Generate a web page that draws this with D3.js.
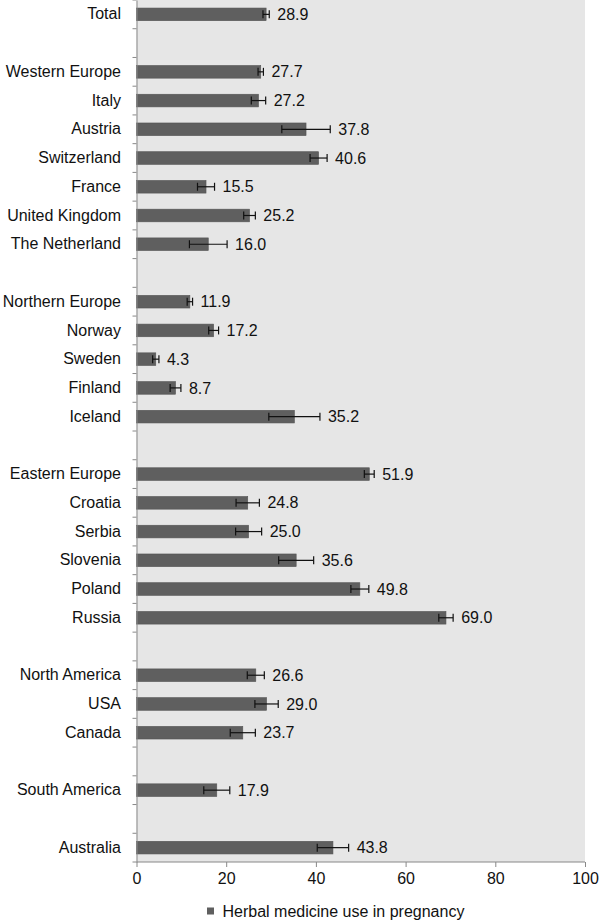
<!DOCTYPE html>
<html><head><meta charset="utf-8">
<script src="https://cdn.jsdelivr.net/npm/d3@7"></script>
<style>body{margin:0;background:#fff;} svg{display:block;font-family:"Liberation Sans",Arial,sans-serif;}</style>
</head><body><svg id="c" width="600" height="921"></svg>
<script>
const categories = ["Total","_b1","Western Europe","Italy","Austria","Switzerland","France","United Kingdom","The Netherland","_b2","Northern Europe","Norway","Sweden","Finland","Iceland","_b3","Eastern Europe","Croatia","Serbia","Slovenia","Poland","Russia","_b4","North America","USA","Canada","_b5","South America","_b6","Australia"];
const values = [28.9,null,27.7,27.2,37.8,40.6,15.5,25.2,16.0,null,11.9,17.2,4.3,8.7,35.2,null,51.9,24.8,25.0,35.6,49.8,69.0,null,26.6,29.0,23.7,null,17.9,null,43.8];
const errors = [0.7,null,0.6,1.6,5.4,1.9,1.9,1.3,4.2,null,0.6,1.1,0.7,1.2,5.7,null,1.1,2.6,2.9,3.9,2.0,1.6,null,1.9,2.6,2.8,null,2.9,null,3.5];
const xTicks = [0,20,40,60,80,100];
const seriesName = "Herbal medicine use in pregnancy";

const svg = d3.select("#c");
const FS = 16;
const pL = 136.5, pR = 585, pT = 0, pB = 862;
const x = d3.scaleLinear().domain([0,100]).range([pL,pR]);
const y = d3.scaleBand().domain(categories).range([pT,pB]).paddingInner(0.56).paddingOuter(0.28);
const yb = d3.scaleBand().domain(categories).range([pT,pB]);

svg.append("rect").attr("x",pL).attr("y",pT).attr("width",pR-pL).attr("height",pB-pT).attr("fill","#e6e6e6");

const data = categories.map((c,i)=>({c,v:values[i],e:errors[i]})).filter(d=>d.v!==null);

svg.selectAll("rect.bar").data(data).enter().append("rect").attr("class","bar")
  .attr("x",x(0)).attr("y",d=>y(d.c)).attr("width",d=>x(d.v)-x(0)).attr("height",y.bandwidth())
  .attr("fill","#5f5f5f").attr("stroke","#555").attr("stroke-width",0.6);

const eb = svg.selectAll("g.err").data(data).enter().append("g").attr("class","err")
  .attr("transform",d=>`translate(0,${y(d.c)+y.bandwidth()/2})`);
eb.append("line").attr("x1",d=>x(d.v-d.e)).attr("x2",d=>x(d.v+d.e)).attr("stroke","#111").attr("stroke-width",1.2);
eb.append("line").attr("x1",d=>x(d.v-d.e)).attr("x2",d=>x(d.v-d.e)).attr("y1",-4).attr("y2",4).attr("stroke","#111").attr("stroke-width",1.2);
eb.append("line").attr("x1",d=>x(d.v+d.e)).attr("x2",d=>x(d.v+d.e)).attr("y1",-4).attr("y2",4).attr("stroke","#111").attr("stroke-width",1.2);
eb.append("text").attr("x",d=>x(d.v+d.e)+8).attr("dy","0.35em").attr("font-size",FS).attr("fill","#111")
  .text(d=>d.v.toFixed(1));

// y axis
const yAxis = d3.axisLeft(yb).tickSize(0).tickFormat(d=>d.startsWith("_")?"":d);
const ga = svg.append("g").attr("transform",`translate(${pL},0)`).call(yAxis);
ga.select(".domain").attr("stroke","#888");
ga.selectAll("text").attr("x",-15.5).attr("font-size",FS).attr("fill","#111").attr("font-family","Liberation Sans, Arial, sans-serif");
const bounds = categories.map(c=>yb(c)).concat([pB]);
svg.selectAll("line.yt").data(bounds).enter().append("line").attr("class","yt")
  .attr("x1",pL-4).attr("x2",pL).attr("y1",d=>d).attr("y2",d=>d).attr("stroke","#888");

// x axis
const xAxis = d3.axisBottom(x).tickValues(xTicks).tickSize(5).tickPadding(6).tickFormat(d3.format("d"));
const gx = svg.append("g").attr("transform",`translate(0,${pB})`).call(xAxis);
gx.select(".domain").attr("stroke","#888").attr("d",`M${pL},0H${pR}`);
gx.selectAll(".tick line").attr("stroke","#888");
gx.selectAll("text").attr("font-size",FS).attr("fill","#111").attr("font-family","Liberation Sans, Arial, sans-serif");

// legend
const lg = svg.append("g").attr("transform","translate(207,912)");
lg.append("rect").attr("x",0).attr("y",-4.5).attr("width",7).attr("height",7).attr("fill","#5f5f5f");
lg.append("text").attr("x",15.5).attr("dy","0.32em").attr("font-size",FS).attr("fill","#111").text(seriesName);
</script></body></html>
